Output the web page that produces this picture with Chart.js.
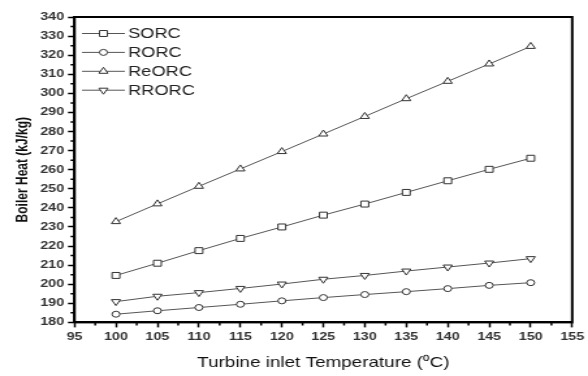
<!DOCTYPE html>
<html>
<head>
<meta charset="utf-8">
<script src="https://cdn.jsdelivr.net/npm/chart.js@4"></script>
<style>
  html, body { margin: 0; padding: 0; background: #fff; overflow: hidden; }
  /* the source figure is stretched sideways, so draw narrow and widen */
  #wrap { width: 452px; height: 376px; transform: scaleX(1.3009); transform-origin: 0 0; }
</style>
</head>
<body>
<div id="wrap"><canvas id="boilerChart" width="452" height="376"></canvas></div>
<script>
var temps = [100, 105, 110, 115, 120, 125, 130, 135, 140, 145, 150];
var sorc  = [204.6, 211.0, 217.6, 224.0, 230.0, 236.2, 242.0, 248.1, 254.2, 260.2, 266.0];
var rorc  = [184.3, 186.1, 187.8, 189.5, 191.3, 193.0, 194.6, 196.1, 197.7, 199.4, 200.8];
var reorc = [232.8, 242.1, 251.3, 260.4, 269.5, 278.7, 287.9, 297.2, 306.3, 315.4, 324.6];
var rrorc = [190.9, 193.7, 195.6, 197.8, 200.1, 202.6, 204.6, 206.9, 209.0, 211.1, 213.4];
var seriesNames = ["SORC", "RORC", "ReORC", "RRORC"];

var lineCol = "#555";
var fam = "'Liberation Sans', Arial, sans-serif";

function pts(arr) {
    return arr.map(function (v, i) { return { x: temps[i], y: v }; });
}

function ds(label, arr, style, r, rot) {
    return {
        label: label,
        data: pts(arr),
        borderColor: lineCol,
        borderWidth: 1,
        pointStyle: style,
        rotation: rot || 0,
        pointRadius: r,
        pointBackgroundColor: "#fff",
        pointBorderColor: "#333",
        pointBorderWidth: 1,
        fill: false,
        tension: 0
    };
}

// frame, minor ticks and the line+marker legend
var framePlugin = {
    id: "frame",
    afterDraw: function (chart) {
        var c = chart.ctx, a = chart.chartArea;
        var xs = chart.scales.x, ys = chart.scales.y;
        c.save();
        c.strokeStyle = "#000";
        c.lineWidth = 2;
        c.strokeRect(a.left, a.top, a.right - a.left, a.bottom - a.top);
        c.lineWidth = 1.5;
        c.beginPath();
        for (var t = 97.5; t < 155; t += 5) {
            var px = xs.getPixelForValue(t);
            c.moveTo(px, a.bottom); c.lineTo(px, a.bottom + 3);
        }
        for (var v = 185; v < 340; v += 10) {
            var py = ys.getPixelForValue(v);
            c.moveTo(a.left, py); c.lineTo(a.left - 3, py);
        }
        c.stroke();

        // legend
        c.font = "14px " + fam;
        c.textBaseline = "middle";
        chart.data.datasets.forEach(function (d, i) {
            var y = 33.5 + i * 18.9;
            var x0 = 63, x1 = 96, xm = 79.5;
            c.strokeStyle = lineCol;
            c.lineWidth = 1;
            c.beginPath(); c.moveTo(x0, y); c.lineTo(x1, y); c.stroke();
            c.fillStyle = "#fff"; c.strokeStyle = "#333";
            Chart.helpers.drawPoint(c, {
                pointStyle: d.pointStyle, rotation: d.rotation,
                radius: d.pointRadius, borderWidth: 1
            }, xm, y);
            c.fillStyle = "#222";
            c.fillText(d.label, 98.5, y + 0.5);
        });
        c.restore();
    }
};

var ctx = document.getElementById("boilerChart").getContext("2d");
var chart = new Chart(ctx, {
    type: "line",
    data: {
        datasets: [
            ds(seriesNames[0], sorc, "rect", 4.2),
            ds(seriesNames[1], rorc, "circle", 3),
            ds(seriesNames[2], reorc, "triangle", 4),
            ds(seriesNames[3], rrorc, "triangle", 4, 180)
        ]
    },
    options: {
        responsive: false,
        animation: false,
        layout: { padding: { left: 6.5, right: 10, top: 17, bottom: 0 } },
        plugins: { legend: { display: false }, tooltip: { enabled: false } },
        scales: {
            x: {
                type: "linear",
                min: 95, max: 155,
                ticks: { stepSize: 5, color: "#333", font: { size: 11, weight: "bold", family: fam }, padding: 3, maxRotation: 0 },
                grid: { drawOnChartArea: false, tickLength: 5, tickWidth: 1.5, color: "#000" },
                border: { color: "#000", width: 2 },
                title: { display: true, text: "Turbine inlet Temperature (\u2070C)", color: "#111", font: { size: 14.5, family: fam }, padding: { top: 8 } }
            },
            y: {
                min: 180, max: 340,
                ticks: { stepSize: 10, color: "#333", font: { size: 11, weight: "bold", family: fam }, padding: 3 },
                grid: { drawOnChartArea: false, tickLength: 5, tickWidth: 1.5, color: "#000" },
                border: { color: "#000", width: 2 },
                title: { display: true, text: "Boiler Heat (kJ/kg)", color: "#111", font: { size: 12, weight: "bold", family: fam }, padding: { bottom: 3 } }
            }
        }
    },
    plugins: [framePlugin]
});
</script>
</body>
</html>
